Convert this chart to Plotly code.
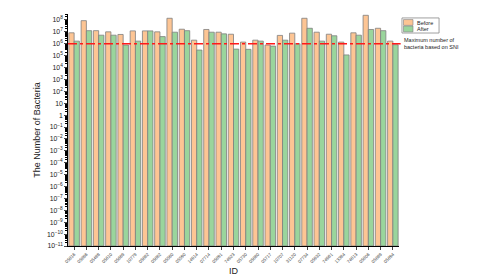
import plotly.graph_objects as go

ids = ["05816", "05886", "05488", "05610", "05669", "10779", "05862", "05882", "05580",
       "05590", "14914", "07714", "05891", "74923", "05730", "05860", "05717", "10707",
       "31120", "07734", "05932", "74961", "13384", "74813", "05806", "05869", "05694"]

before_log = [6.92, 7.94, 7.10, 7.00, 6.78, 7.08, 7.08, 7.00, 8.14, 7.22, 6.30, 7.20, 6.97,
              6.80, 6.14, 6.30, 5.89, 6.70, 6.89, 8.14, 6.97, 6.80, 6.14, 6.92, 8.39, 7.30, 6.22]
after_log = [6.22, 7.10, 6.72, 6.72, 5.89, 6.22, 7.08, 6.60, 6.97, 7.10, 5.47, 6.97, 6.83,
             5.55, 5.53, 6.22, 5.80, 6.30, 6.00, 7.30, 6.22, 6.67, 5.06, 6.72, 7.20, 7.10, 5.92]
before = [10 ** v for v in before_log]
after = [10 ** v for v in after_log]

THRESHOLD = 1e6
BASE = 1e-11
C_BEFORE = "#FDC594"
C_AFTER = "#9AD59C"
EDGE = "#7f7f7f"

fig = go.Figure()
fig.add_trace(go.Bar(x=ids, y=[b - BASE for b in before], base=BASE, name="Before",
                     marker=dict(color=C_BEFORE, line=dict(color=EDGE, width=0.8))))
fig.add_trace(go.Bar(x=ids, y=[a - BASE for a in after], base=BASE, name="After",
                     marker=dict(color=C_AFTER, line=dict(color=EDGE, width=0.8))))

fig.add_shape(type="line", xref="paper", yref="y", x0=0, x1=1.005,
              y0=THRESHOLD, y1=THRESHOLD,
              line=dict(color="#ff1a1a", width=1.5, dash="dashdot"))

fig.add_annotation(xref="paper", yref="paper", x=1.008, y=0.873, xanchor="left", yanchor="middle",
                   text="Maximum number of<br>bacteria based on SNI", showarrow=False, align="left",
                   font=dict(size=5.5, color="#222", family="Liberation Sans, Arial"))

# manual legend
fig.add_shape(type="rect", xref="paper", yref="paper", x0=1.009, x1=1.121, y0=0.918, y1=0.983,
              line=dict(color="#888", width=0.8), fillcolor="white")
fig.add_shape(type="rect", xref="paper", yref="paper", x0=1.0136, x1=1.0423, y0=0.951, y1=0.976,
              line=dict(color=EDGE, width=0.6), fillcolor=C_BEFORE)
fig.add_shape(type="rect", xref="paper", yref="paper", x0=1.0136, x1=1.0423, y0=0.923, y1=0.948,
              line=dict(color=EDGE, width=0.6), fillcolor=C_AFTER)
for name, yy in (("Before", 0.963), ("After", 0.936)):
    fig.add_annotation(xref="paper", yref="paper", x=1.047, y=yy, xanchor="left", yanchor="middle",
                       text=name, showarrow=False,
                       font=dict(size=5.5, color="#222", family="Liberation Sans, Arial"))

fig.update_layout(
    width=480, height=277,
    margin=dict(l=60, r=89, t=6, b=39),
    plot_bgcolor="white", paper_bgcolor="white",
    barmode="group", bargap=0.14, bargroupgap=0,
    font=dict(family="Liberation Sans, Arial", color="#222"),
    showlegend=False,
)
fig.update_xaxes(showline=True, linecolor="black", linewidth=1, ticks="outside", ticklen=3,
                 tickangle=-45, tickfont=dict(size=4.5, color="#444"), showgrid=False,
                 title=dict(text="ID", font=dict(size=9), standoff=4))
fig.update_yaxes(type="log", range=[-11, 8.5], dtick=1, exponentformat="power",
                 showline=True, linecolor="black", linewidth=1.2, ticks="outside", ticklen=3,
                 tickfont=dict(size=5.5, color="#222"), showgrid=False, zeroline=False,
                 minor=dict(ticks="outside", ticklen=1.5, tickcolor="black"),
                 title=dict(text="The Number of Bacteria", font=dict(size=9), standoff=4))

fig.write_html("out.html")
